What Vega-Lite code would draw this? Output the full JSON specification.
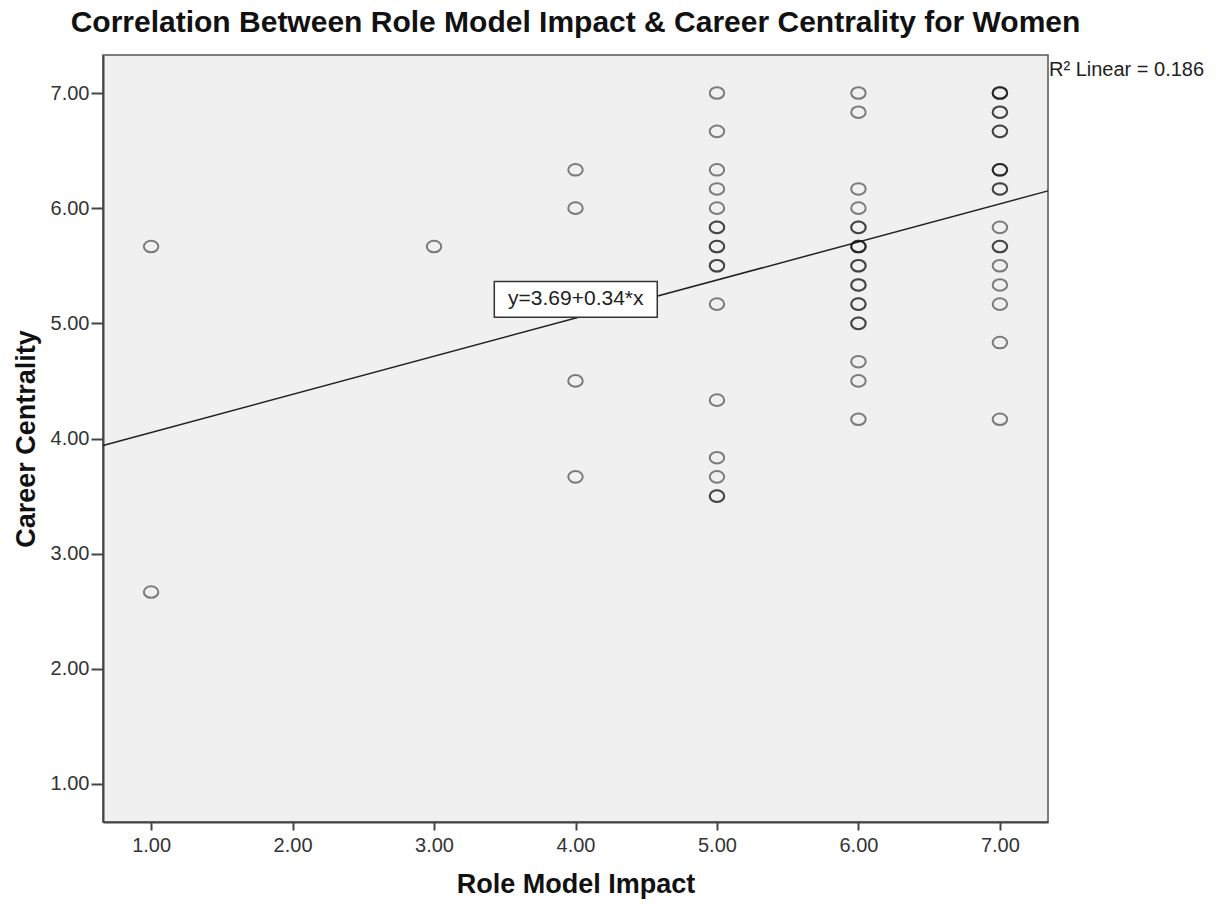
{
  "$schema": "https://vega.github.io/schema/vega-lite/v6.json",
  "width": 945,
  "height": 767,
  "autosize": {"type": "none"},
  "padding": {"left": 103, "top": 55, "right": 171, "bottom": 82},
  "background": "white",
  "config": {
    "view": {"fill": "#f0f0f0", "stroke": "#555555", "strokeWidth": 1.5},
    "font": "Liberation Sans"
  },
  "title": {
    "text": "Correlation Between Role Model Impact & Career Centrality for Women",
    "font": "Liberation Sans",
    "fontSize": 30,
    "fontWeight": "bold",
    "color": "#111111",
    "anchor": "middle",
    "offset": 17
  },
  "datasets": {
    "pts": [
      {"impact": 1, "centrality": 5.667},
      {"impact": 1, "centrality": 2.667},
      {"impact": 3, "centrality": 5.667},
      {"impact": 4, "centrality": 6.333},
      {"impact": 4, "centrality": 6.0},
      {"impact": 4, "centrality": 4.5},
      {"impact": 4, "centrality": 3.667},
      {"impact": 5, "centrality": 7.0},
      {"impact": 5, "centrality": 6.667},
      {"impact": 5, "centrality": 6.333},
      {"impact": 5, "centrality": 6.167},
      {"impact": 5, "centrality": 6.0},
      {"impact": 5, "centrality": 5.833},
      {"impact": 5, "centrality": 5.833},
      {"impact": 5, "centrality": 5.667},
      {"impact": 5, "centrality": 5.667},
      {"impact": 5, "centrality": 5.5},
      {"impact": 5, "centrality": 5.5},
      {"impact": 5, "centrality": 5.167},
      {"impact": 5, "centrality": 4.333},
      {"impact": 5, "centrality": 3.833},
      {"impact": 5, "centrality": 3.667},
      {"impact": 5, "centrality": 3.5},
      {"impact": 5, "centrality": 3.5},
      {"impact": 6, "centrality": 7.0},
      {"impact": 6, "centrality": 6.833},
      {"impact": 6, "centrality": 6.167},
      {"impact": 6, "centrality": 6.0},
      {"impact": 6, "centrality": 5.833},
      {"impact": 6, "centrality": 5.833},
      {"impact": 6, "centrality": 5.667},
      {"impact": 6, "centrality": 5.667},
      {"impact": 6, "centrality": 5.667},
      {"impact": 6, "centrality": 5.5},
      {"impact": 6, "centrality": 5.5},
      {"impact": 6, "centrality": 5.333},
      {"impact": 6, "centrality": 5.333},
      {"impact": 6, "centrality": 5.167},
      {"impact": 6, "centrality": 5.167},
      {"impact": 6, "centrality": 5.0},
      {"impact": 6, "centrality": 5.0},
      {"impact": 6, "centrality": 4.667},
      {"impact": 6, "centrality": 4.5},
      {"impact": 6, "centrality": 4.167},
      {"impact": 7, "centrality": 7.0},
      {"impact": 7, "centrality": 7.0},
      {"impact": 7, "centrality": 7.0},
      {"impact": 7, "centrality": 6.833},
      {"impact": 7, "centrality": 6.833},
      {"impact": 7, "centrality": 6.667},
      {"impact": 7, "centrality": 6.667},
      {"impact": 7, "centrality": 6.333},
      {"impact": 7, "centrality": 6.333},
      {"impact": 7, "centrality": 6.333},
      {"impact": 7, "centrality": 6.167},
      {"impact": 7, "centrality": 6.167},
      {"impact": 7, "centrality": 5.833},
      {"impact": 7, "centrality": 5.667},
      {"impact": 7, "centrality": 5.667},
      {"impact": 7, "centrality": 5.5},
      {"impact": 7, "centrality": 5.333},
      {"impact": 7, "centrality": 5.167},
      {"impact": 7, "centrality": 4.833},
      {"impact": 7, "centrality": 4.167}
    ],
    "fit": [
      {"impact": 0.66, "centrality": 3.94},
      {"impact": 7.34, "centrality": 6.15}
    ],
    "eqbox": [
      {"x1": 3.426, "x2": 4.578, "y1": 5.052, "y2": 5.364, "xc": 4.002, "yc": 5.208, "label": "y=3.69+0.34*x"}
    ],
    "r2": [
      {"x": 7.34, "y": 7.2, "label": "R² Linear = 0.186"}
    ]
  },
  "layer": [
    {
      "data": {"name": "fit"},
      "mark": {"type": "line", "color": "#222222", "strokeWidth": 1.5},
      "encoding": {
        "x": {
          "field": "impact", "type": "quantitative",
          "scale": {"domain": [0.66, 7.34], "nice": false, "zero": false},
          "axis": {
            "title": "Role Model Impact",
            "values": [1, 2, 3, 4, 5, 6, 7],
            "format": ".2f",
            "grid": false,
            "domainColor": "#444444", "domainWidth": 2,
            "tickColor": "#444444", "tickWidth": 2, "tickSize": 8,
            "labelFont": "Liberation Sans", "labelFontSize": 20, "labelColor": "#333333", "labelPadding": 5,
            "titleFont": "Liberation Sans", "titleFontSize": 27, "titleFontWeight": "bold", "titleColor": "#111111", "titlePadding": 16
          }
        },
        "y": {
          "field": "centrality", "type": "quantitative",
          "scale": {"domain": [0.67, 7.33], "nice": false, "zero": false},
          "axis": {
            "title": "Career Centrality",
            "values": [1, 2, 3, 4, 5, 6, 7],
            "format": ".2f",
            "grid": false,
            "domainColor": "#444444", "domainWidth": 2,
            "tickColor": "#444444", "tickWidth": 2, "tickSize": 12,
            "labelFont": "Liberation Sans", "labelFontSize": 20, "labelColor": "#333333", "labelPadding": 2,
            "titleFont": "Liberation Sans", "titleFontSize": 27, "titleFontWeight": "bold", "titleColor": "#111111", "titlePadding": 10
          }
        }
      }
    },
    {
      "data": {"name": "pts"},
      "mark": {
        "type": "point",
        "shape": "M-1,0A1,0.8 0 1,0 1,0A1,0.8 0 1,0 -1,0Z",
        "size": 210,
        "filled": false,
        "fill": null,
        "stroke": "#111111",
        "strokeOpacity": 0.75,
        "strokeWidth": 2
      },
      "encoding": {
        "x": {"field": "impact", "type": "quantitative"},
        "y": {"field": "centrality", "type": "quantitative"}
      }
    },
    {
      "data": {"name": "eqbox"},
      "mark": {"type": "rect", "fill": "white", "stroke": "#333333", "strokeWidth": 1.5},
      "encoding": {
        "x": {"field": "x1", "type": "quantitative"},
        "x2": {"field": "x2"},
        "y": {"field": "y1", "type": "quantitative"},
        "y2": {"field": "y2"}
      }
    },
    {
      "data": {"name": "eqbox"},
      "mark": {"type": "text", "font": "Liberation Sans", "fontSize": 21, "color": "#222222", "align": "center", "baseline": "middle"},
      "encoding": {
        "x": {"field": "xc", "type": "quantitative"},
        "y": {"field": "yc", "type": "quantitative"},
        "text": {"field": "label"}
      }
    },
    {
      "data": {"name": "r2"},
      "mark": {"type": "text", "font": "Liberation Sans", "fontSize": 20, "color": "#222222", "align": "left", "baseline": "middle", "dx": 1, "clip": false},
      "encoding": {
        "x": {"field": "x", "type": "quantitative"},
        "y": {"field": "y", "type": "quantitative"},
        "text": {"field": "label"}
      }
    }
  ]
}
